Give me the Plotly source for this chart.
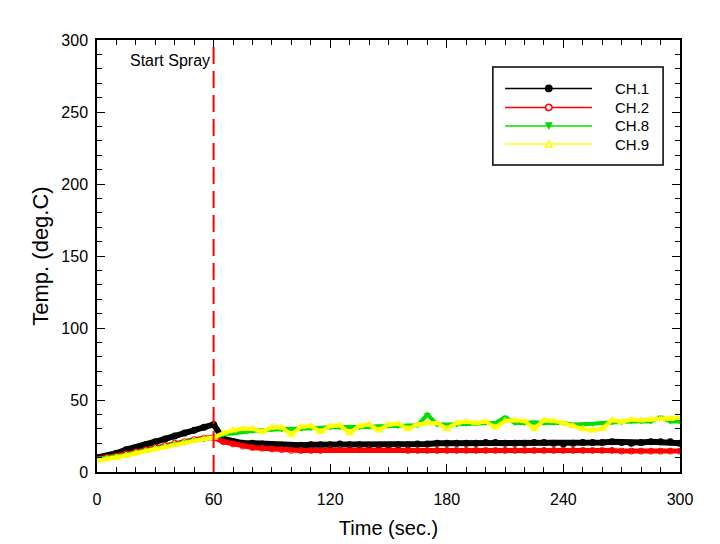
import plotly.graph_objects as go

# time axis, sampled every 5 s
t = list(range(0, 301, 5))

ch1 = [10, 11, 13, 15.5, 17, 19, 21, 23, 25, 27, 29, 31, 33,
       23, 21, 20, 20, 19.5, 19, 18.5, 18, 18.5, 19, 19, 19, 19.5, 19, 19, 18.5, 18.5,
       18.5, 19, 19, 19.5, 19.5, 20, 20, 20, 20, 20, 20.5, 20.5, 20, 20, 20, 20.5,
       20.5, 20, 19.5, 20, 20.5, 20.5, 20.5, 21, 20.5, 20, 20.5, 21, 21, 21, 20]
ch2 = [9, 10, 11, 12.5, 14, 15.5, 17, 18.5, 20, 21, 22.5, 23.5, 24,
       21, 19.5, 18, 17, 16.5, 16, 15.5, 15, 15, 15, 15, 15.5, 15.5, 15.5, 15.5, 15.5, 15.5,
       15.5, 15.5, 15, 15, 15, 15, 15, 15, 15, 15, 15, 15, 15, 15, 15, 15,
       15, 15, 15, 15, 15, 15, 15, 15, 14.5, 14.5, 14.5, 14.5, 14.5, 14.5, 14.5]
ch8 = [9, 10, 10.5, 12, 13.5, 15, 16.5, 18, 19.5, 21, 22, 23, 24,
       26, 27, 28, 28.5, 29, 29.5, 29.5, 30, 30, 30.5, 30.5, 31, 31, 31.5, 31, 31.5, 32,
       32, 32, 32.5, 32.5, 40, 33, 33, 33, 33.5, 33.5, 34, 34, 38, 34, 34, 34.5,
       34, 34, 34, 33, 33, 33.5, 34, 34.5, 34.5, 35, 35, 35, 38, 35, 35]
ch9 = [8, 9, 10, 11.5, 13, 14.5, 16, 17.5, 19, 20.5, 22, 23, 24,
       27, 29, 30, 30, 28, 31, 31, 26, 31.5, 32, 28, 32, 32.5, 27, 32, 33, 29,
       33, 33.5, 30, 33, 34, 34, 30, 34, 35, 34, 35, 31, 35.5, 36, 35.5, 30,
       36, 35.5, 34, 32, 30, 29, 30, 36, 35, 36.5, 36, 36.5, 37, 37, 38]

names = ["CH.1", "CH.2", "CH.8", "CH.9"]
colors = ["#000000", "#ff0000", "#00e000", "#ffff00"]
symbols = ["circle", "circle-open", "triangle-down", "triangle-up-open"]
widths = [6, 5, 4, 4]
msize = [7, 6, 6, 7]

fig = go.Figure()
for y, n, c, s, w, m in zip([ch1, ch2, ch8, ch9], names, colors, symbols, widths, msize):
    fig.add_trace(go.Scatter(x=t, y=y, name=n, mode="lines+markers",
                             line=dict(color=c, width=w),
                             marker=dict(symbol=s, size=m, color=c),
                             showlegend=False))

# spray start marker
fig.add_shape(type="line", x0=60, x1=60, y0=0, y1=300, xref="x", yref="y",
              line=dict(color="#ff0000", width=2, dash="17px,7px"))
fig.add_annotation(x=59, y=286, xref="x", yref="y", text="Start Spray", showarrow=False,
                   xanchor="right", yanchor="middle", font=dict(size=16, color="black"))

# hand-drawn legend box (long sample lines like the original)
fig.add_shape(type="rect", xref="paper", yref="paper", x0=0.679, x1=0.971, y0=0.7106, y1=0.9375,
              line=dict(color="black", width=1.5), fillcolor="white")
ly = [0.888, 0.844, 0.801, 0.759]
dx, dy = 0.0055, 0.0074
for yy, n, c, s in zip(ly, names, colors, symbols):
    fig.add_shape(type="line", xref="paper", yref="paper", x0=0.700, x1=0.849, y0=yy, y1=yy,
                  line=dict(color=c, width=1.5))
    xc = 0.775
    if s.startswith("circle"):
        fig.add_shape(type="circle", xref="paper", yref="paper",
                      x0=xc - dx, x1=xc + dx, y0=yy - dy, y1=yy + dy,
                      line=dict(color=c, width=1.5),
                      fillcolor=c if s == "circle" else "white")
    elif s == "triangle-down":
        p = f"M {xc-dx},{yy+dy} L {xc+dx},{yy+dy} L {xc},{yy-dy} Z"
        fig.add_shape(type="path", xref="paper", yref="paper", path=p,
                      line=dict(color=c, width=1), fillcolor=c)
    else:
        p = f"M {xc-dx},{yy-dy} L {xc+dx},{yy-dy} L {xc},{yy+dy} Z"
        fig.add_shape(type="path", xref="paper", yref="paper", path=p,
                      line=dict(color=c, width=1.5), fillcolor="white")
    fig.add_annotation(x=0.885, y=yy, xref="paper", yref="paper", text=n, showarrow=False,
                       xanchor="left", yanchor="middle", font=dict(size=15, color="black"))

axis_common = dict(showgrid=False, zeroline=False, showline=True, linecolor="black", linewidth=1.5,
                   mirror="allticks", ticks="inside", ticklen=8, tickwidth=1, tickcolor="black",
                   tickfont=dict(size=16, color="black"), automargin=False,
                   minor=dict(ticks="inside", ticklen=5, tickwidth=1, tickcolor="black"))

fig.update_xaxes(range=[0, 300], tickvals=[0, 60, 120, 180, 240, 300], minor_dtick=10,
                 title=dict(text="Time (sec.)", font=dict(size=20, color="black"), standoff=14),
                 ticklabelstandoff=12, **axis_common)
fig.update_yaxes(range=[0, 300], tickvals=[0, 50, 100, 150, 200, 250, 300], minor_dtick=10,
                 title=dict(text="Temp. (deg.C)", font=dict(size=22, color="black"), standoff=7),
                 ticklabelstandoff=4, **axis_common)

# the page body adds an 8px margin, so the plot margins are shifted to compensate
fig.update_layout(width=720, height=544, margin=dict(l=89, r=48, t=32, b=80),
                  paper_bgcolor="white", plot_bgcolor="white",
                  font=dict(family="Liberation Sans, Arial, sans-serif", color="black"))

fig.write_html("out.html")
